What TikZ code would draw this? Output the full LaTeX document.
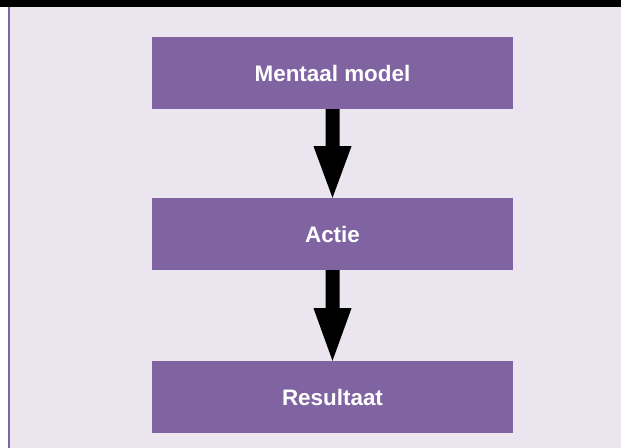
\documentclass[tikz,border=0pt]{standalone}
\usepackage{fontspec}
\setmainfont{Liberation Sans}
\definecolor{boxpurple}{HTML}{8064A2}
\definecolor{panelbg}{HTML}{EAE5EE}
\begin{document}
\begin{tikzpicture}[x=1bp,y=-1bp,
  stepbox/.style={fill=boxpurple,draw=none,minimum width=361bp,minimum height=72bp,
    inner sep=0pt,text=white,font=\fontsize{22.5}{26}\selectfont\bfseries},
  flowarrow/.style={fill=black,draw=none}]
\useasboundingbox (0,0) rectangle (621,448);
\fill[white] (0,0) rectangle (621,448);
\fill[panelbg] (8,7) rectangle (621,448);
\fill[black] (0,0) rectangle (621,7);
\draw[boxpurple,line width=2bp] (8.5,7) -- (8.5,448);
\node[stepbox] (m) at (332.5,73) {Mentaal model};
\node[stepbox] (a) at (332.5,234) {Actie};
\node[stepbox] (r) at (332.5,397) {Resultaat};
% arrows as filled block shapes anchored to node borders
\fill[flowarrow] ([xshift=-7bp]m.south) -- ([xshift=7bp]m.south)
  -- ([xshift=7bp,yshift=-37bp]m.south) -- ([xshift=19bp,yshift=-37bp]m.south)
  -- (a.north) -- ([xshift=-19bp,yshift=-37bp]m.south)
  -- ([xshift=-7bp,yshift=-37bp]m.south) -- cycle;
\fill[flowarrow] ([xshift=-7bp]a.south) -- ([xshift=7bp]a.south)
  -- ([xshift=7bp,yshift=-38bp]a.south) -- ([xshift=19bp,yshift=-38bp]a.south)
  -- (r.north) -- ([xshift=-19bp,yshift=-38bp]a.south)
  -- ([xshift=-7bp,yshift=-38bp]a.south) -- cycle;
\end{tikzpicture}
\end{document}
